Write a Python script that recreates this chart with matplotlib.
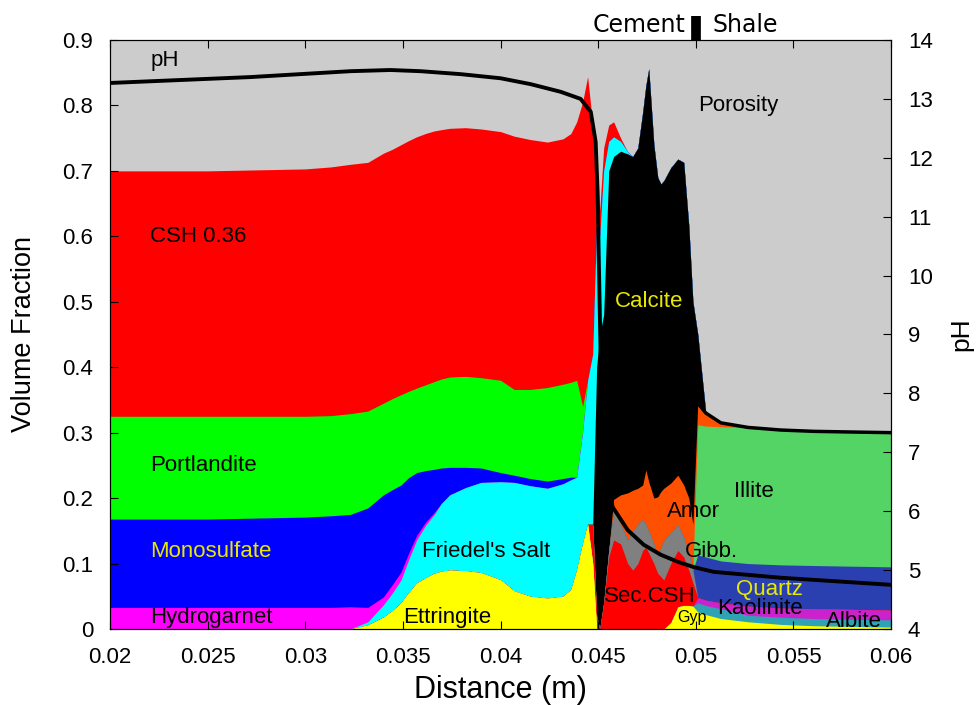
import numpy as np
import matplotlib.pyplot as plt

# distancia (m)
dist = np.array([0.0200, 0.0250, 0.0300, 0.0313, 0.0323, 0.0332, 0.0340, 0.03446, 0.0349, 0.03528,
                 0.0357, 0.03615, 0.0366, 0.03697, 0.0374, 0.0382, 0.0390, 0.0400, 0.0407, 0.0415,
                 0.0424, 0.0432, 0.0436, 0.0439, 0.0442, 0.04446, 0.04472, 0.04492, 0.04508, 0.04528,
                 0.04554, 0.04579, 0.04615, 0.04651, 0.04677, 0.04703, 0.04728, 0.04744, 0.04759, 0.04785,
                 0.04805, 0.04821, 0.04836, 0.04872, 0.04908, 0.04938, 0.04964, 0.04985, 0.0501, 0.05051,
                 0.05128, 0.05267, 0.05436, 0.05605, 0.05795, 0.0600])

# fracoes volumetricas de cada mineral (de baixo para cima)
ettringite = np.array([0, 0, 0, 0, 0, .006, .018, .028, .040, .055,
                       .070, .078, .085, .088, .090, .089, .086, .075, .058, .050,
                       .047, .050, .060, .090, .130, .160, .100, 0, 0, 0] + [0] * 26)
gyp = np.array([0] * 40 + [0, 0, 0, .010, .034, .036, .036, .035, .026, .022,
                           .016, .011, .007, .005, .004, .003])
albite = np.array([0] * 48 + [.014, .014, .015, .010, .011, .011, .011, .011])
kaolinite = np.array([0] * 48 + [.008, .008, .009, .014, .014, .015, .015, .015])
sec_csh = np.array([0] * 20 + [0, 0, 0, 0, 0, 0, .060, .020, 0, .040,
                               .110, .136, .130, .100, .090, .100, .120, .125, .116, .100,
                               .085, .080, .075, .090, .086, .074, .054, .035, 0, 0] + [0] * 6)
gibb = np.array([0] * 30 + [.010, .046, .030, .036, .060, .060, .047, .035, .034, .030,
                            .025, .045, .060, .047, .040, .030, .025, .020, 0, 0] + [0] * 6)
quartz = np.array([0] * 48 + [.065, .066, .064, .065, .066, .066, .066, .066])
illite = np.array([0] * 48 + [.199, .200, .205, .208, .206, .205, .205, .205])
amor = np.array([0] * 30 + [0, .016, .045, .072, .062, .055, .053, .083, .075, .070,
                            .092, .085, .080, .076, .075, .080, .085, .070, .033, .020,
                            .006, 0, 0, 0, 0, 0])
calcite = np.array([0] * 20 + [0, 0, 0, 0, 0, 0, 0, .380, .450, .440,
                               .580, .524, .525, .518, .510, .520, .570, .587, .631, .540,
                               .488, .470, .470, .482, .483, .493, .416, .340, .105, 0] + [0] * 6)
friedel = np.array([0, 0, 0, 0, 0, .005, .019, .027, .035, .050,
                    .066, .080, .090, .104, .115, .127, .138, .150, .166, .169,
                    .168, .172, .168, .142, .170, .220, .260, .220, .150, .220,
                    .045, .030, .015, .003] + [0] * 22)
hydrogarnet = np.array([.033, .033, .033, .033, .034, .022, .012, .013, .012, .010,
                        .007, .005, .003] + [0] * 43)
monosulfate = np.array([.135, .135, .138, .140, .141, .152, .156, .145, .133, .116,
                        .096, .079, .066, .054, .042, .031, .022, .014, .011, .011,
                        .011, .008, .004] + [0] * 33)
portlandite = np.array([.157, .157, .154, .153, .154, .148, .140, .139, .138, .132,
                        .129, .131, .134, .136, .138, .139, .138, .141, .131, .136,
                        .143, .144, .145, .148, .040] + [0] * 31)
csh = np.array([.375, .375, .378, .380, .381, .380, .382, .381, .382, .383,
                .384, .384, .383, .381, .380, .380, .380, .380, .387, .382,
                .375, .375, .380, .395, .465, .464, .350, .090, .040, .035,
                .025, .023, .005] + [0] * 23)

# pH
ph_dist = np.array([0.0200, 0.02718, 0.02974, 0.03231, 0.03436, 0.0359, 0.03795, 0.0400, 0.04154, 0.04308,
                    0.0441, 0.04462, 0.04487, 0.04497, 0.04503, 0.04513, 0.04533, 0.04554, 0.04574, 0.04651,
                    0.04733, 0.04821, 0.04908, 0.0499, 0.05092, 0.05436, 0.0600])
ph = np.array([13.27, 13.37, 13.42, 13.47, 13.49, 13.47, 13.42, 13.35, 13.25, 13.12,
               13.0, 12.78, 12.27, 11.42, 10.28, 8.57, 7.0, 6.4, 6.07, 5.68,
               5.43, 5.26, 5.14, 5.05, 4.97, 4.87, 4.75])

camadas = [ettringite, gyp, albite, kaolinite, sec_csh, gibb, quartz, illite,
           amor, calcite, friedel, hydrogarnet, monosulfate, portlandite, csh]
cores = ["#ffff00", "#ffff00", "#2ea3b4", "#cc22cc", "#ff0000", "#808080", "#2a40b0", "#55d466",
         "#ff5000", "#000000", "#00ffff", "#ff00ff", "#0000ff", "#00ff00", "#ff0000"]

topos = np.cumsum(np.vstack(camadas), axis=0)

fonte = "Liberation Sans"
fig = plt.figure(figsize=(9.79, 7.05), dpi=100)
ax = fig.add_axes([0.1124, 0.1078, 0.7978, 0.8355])
ax.set_facecolor("#cccccc")

# desenha de cima para baixo para nao deixar frestas
for i in range(len(camadas) - 1, -1, -1):
    ax.fill_between(dist, 0, topos[i], color=cores[i], linewidth=0)

# contorno do folhelho
ax.plot(dist[48:], topos[8][48:], color="black", lw=2.5)

ax.set_xlim(0.02, 0.06)
ax.set_ylim(0, 0.9)
ax.set_xticks([0.02, 0.025, 0.03, 0.035, 0.04, 0.045, 0.05, 0.055, 0.06])
ax.set_xticklabels(["0.02", "0.025", "0.03", "0.035", "0.04", "0.045", "0.05", "0.055", "0.06"])
ax.set_yticks(np.arange(0, 0.91, 0.1))
ax.set_yticklabels(["0", "0.1", "0.2", "0.3", "0.4", "0.5", "0.6", "0.7", "0.8", "0.9"])
ax.tick_params(direction="in", length=6, top=True, right=False, labelsize=16)
ax.tick_params(axis="x", pad=13)
ax.tick_params(axis="y", pad=12)
for lab in ax.get_xticklabels() + ax.get_yticklabels():
    lab.set_fontfamily(fonte)
ax.set_xlabel("Distance (m)", fontsize=22, fontfamily=fonte, labelpad=5)
ax.set_ylabel("Volume Fraction", fontsize=19.5, fontfamily=fonte, labelpad=18)

ax2 = ax.twinx()
ax2.plot(ph_dist, ph, color="black", lw=2.8)
ax2.set_ylim(4, 14)
ax2.set_yticks(range(4, 15))
ax2.tick_params(direction="in", length=6, labelsize=16, pad=12)
for lab in ax2.get_yticklabels():
    lab.set_fontfamily(fonte)
ax2.set_ylabel("pH", fontsize=19, fontfamily=fonte, labelpad=12)

# rotulos
rotulos = [
    ("pH", 0.02205, 0.868, "black", 16),
    ("CSH 0.36", 0.02205, 0.599, "black", 16),
    ("Portlandite", 0.02205, 0.250, "black", 16),
    ("Monosulfate", 0.02205, 0.118, "#e8e800", 16),
    ("Hydrogarnet", 0.02205, 0.018, "black", 16),
    ("Friedel's Salt", 0.0360, 0.119, "black", 16),
    ("Ettringite", 0.03503, 0.018, "black", 16),
    ("Calcite", 0.04585, 0.50, "#e8e800", 16),
    ("Porosity", 0.0501, 0.80, "black", 16),
    ("Illite", 0.05195, 0.21, "black", 16),
    ("Amor", 0.04851, 0.179, "black", 16),
    ("Gibb.", 0.04944, 0.119, "black", 16),
    ("Sec.CSH", 0.04528, 0.049, "black", 16),
    ("Gyp", 0.04903, 0.017, "black", 11.5),
    ("Quartz", 0.05205, 0.061, "#e8e800", 16),
    ("Kaolinite", 0.05108, 0.031, "black", 16),
    ("Albite", 0.05667, 0.012, "black", 16),
]
for txt, xx, yy, cor, tam in rotulos:
    ax.text(xx, yy, txt, color=cor, fontsize=tam, fontfamily=fonte, ha="left", va="center")

# interface cimento / folhelho
ax.plot([0.05, 0.05], [0.9, 0.937], color="black", lw=7, clip_on=False, solid_capstyle="butt")
fig.text(0.7007, 0.9645, "Cement", fontsize=17, fontfamily="DejaVu Sans", ha="right", va="center")
fig.text(0.7273, 0.9645, "Shale", fontsize=17, fontfamily="DejaVu Sans", ha="left", va="center")

fig.savefig("out.png", dpi=100)
